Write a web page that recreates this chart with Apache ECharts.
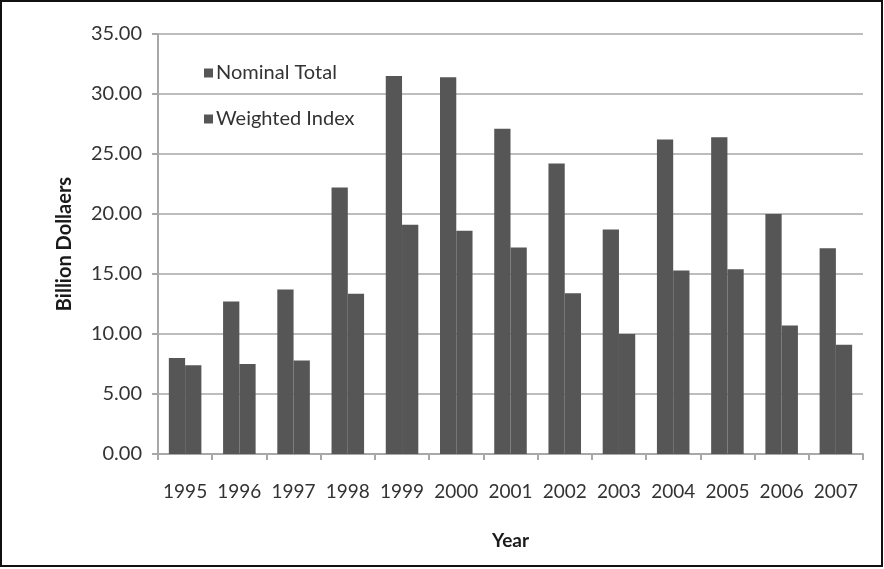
<!DOCTYPE html>
<html>
<head>
<meta charset="utf-8">
<script src="https://cdn.jsdelivr.net/npm/echarts@6/dist/echarts.min.js"></script>
<style>
  html, body { margin: 0; padding: 0; background: #fff; }
  #chart { width: 884px; height: 569px; }
</style>
</head>
<body>
<div id="chart"></div>
<script>
// Annual totals, in billions of dollars
const years = ['1995', '1996', '1997', '1998', '1999', '2000', '2001',
               '2002', '2003', '2004', '2005', '2006', '2007'];
const nominalTotal  = [8.0, 12.7, 13.7, 22.2, 31.5, 31.4, 27.1, 24.2, 18.7, 26.2, 26.4, 20.0, 17.15];
const weightedIndex = [7.4, 7.5, 7.8, 13.35, 19.1, 18.6, 17.2, 13.4, 10.0, 15.3, 15.4, 10.7, 9.1];
const yTicks = { min: 0, max: 35, step: 5 };

const FONT = "'Lato', sans-serif";
const BAR = '#565656';

const chart = echarts.init(document.getElementById('chart'), null, { renderer: 'canvas' });

chart.setOption({
  backgroundColor: '#ffffff',
  animation: false,
  textStyle: { fontFamily: FONT },
  graphic: [{
    type: 'rect',
    shape: { x: 1, y: 1, width: 881, height: 565 },
    style: { fill: 'none', stroke: '#111', lineWidth: 2 },
    silent: true
  }],
  legend: {
    orient: 'vertical',
    left: 199,
    top: 58,
    itemGap: 26,
    itemWidth: 9,
    itemHeight: 9,
    icon: 'rect',
    textStyle: { fontFamily: FONT, fontSize: 20, color: '#333', padding: [0, 0, 0, -2] },
    data: ['Nominal Total', 'Weighted Index']
  },
  grid: { left: 158, right: 21, top: 34, bottom: 115 },
  xAxis: {
    type: 'category',
    data: years,
    name: 'Year',
    nameLocation: 'middle',
    nameGap: 77,
    nameTextStyle: { fontFamily: FONT, fontSize: 19, fontWeight: 'bold', color: '#1a1a1a' },
    axisLine: { lineStyle: { color: '#a8a8a8', width: 2 } },
    axisTick: { show: true, alignWithLabel: false, length: 6, lineStyle: { color: '#a8a8a8', width: 2 } },
    axisLabel: { interval: 0, margin: 28, fontFamily: FONT, fontSize: 19, color: '#333' }
  },
  yAxis: {
    type: 'value',
    min: yTicks.min,
    max: yTicks.max,
    interval: yTicks.step,
    name: 'Billion Dollaers',
    nameLocation: 'middle',
    nameGap: 83,
    nameTextStyle: { fontFamily: FONT, fontSize: 20, fontWeight: 'bold', color: '#1a1a1a' },
    axisLine: { show: true, lineStyle: { color: '#a8a8a8', width: 2 } },
    axisTick: { show: true, length: 6, lineStyle: { color: '#a8a8a8', width: 2 } },
    axisLabel: {
      margin: 16,
      fontFamily: FONT, fontSize: 20, color: '#333',
      formatter: v => v.toFixed(2)
    },
    splitLine: { lineStyle: { color: '#bdbdbd', width: 2 } }
  },
  series: [
    {
      name: 'Nominal Total',
      type: 'bar',
      data: nominalTotal,
      barGap: '0%',
      barCategoryGap: '40%',
      itemStyle: { color: BAR }
    },
    {
      name: 'Weighted Index',
      type: 'bar',
      data: weightedIndex,
      itemStyle: { color: BAR }
    }
  ]
});
</script>
</body>
</html>
